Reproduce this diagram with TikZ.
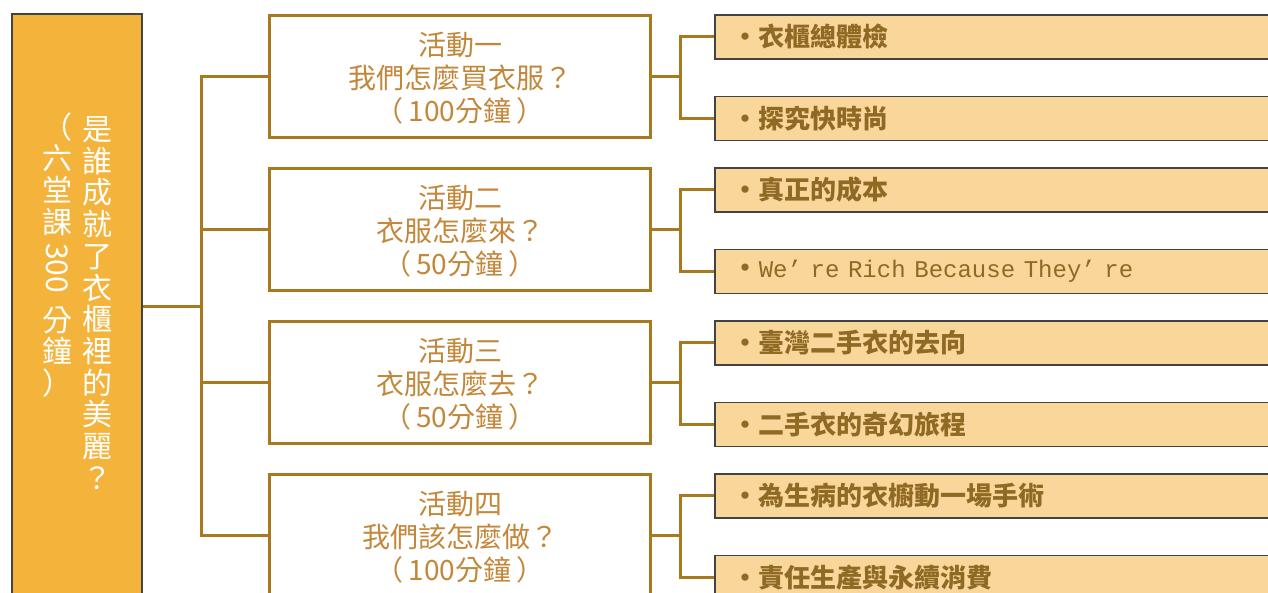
\documentclass[tikz,border=0pt]{standalone}
\usepackage{fontspec}
\setmainfont{Noto Sans CJK TC}
\newfontfamily\latinmono{Liberation Mono}
\usetikzlibrary{positioning,calc}
\definecolor{topicfill}{HTML}{F4B33A}
\definecolor{framegray}{HTML}{434343}
\definecolor{linkbrown}{HTML}{A8791F}
\definecolor{acttext}{HTML}{C3873A}
\definecolor{itemfill}{HTML}{F9D79B}
\definecolor{itemtext}{HTML}{8F6A25}
\newcommand{\paren}[1]{（\hspace{5pt}#1\hspace{5pt}）}
\tikzset{
  topic/.style={draw=framegray, line width=1.5pt, fill=topicfill,
    minimum width=130pt, minimum height=700pt, anchor=north west},
  vtext/.style={text=white, align=center, inner sep=0pt,
    font=\fontsize{30}{31.7}\selectfont},
  activity/.style={draw=linkbrown, line width=3pt, fill=white,
    minimum width=381pt, minimum height=122pt, text=acttext, align=center,
    text depth=-4pt, font=\fontsize{28}{33}\selectfont},
  item/.style={draw=framegray, line width=1.5pt, fill=itemfill,
    text width=540pt, inner xsep=18pt, inner ysep=2pt, minimum height=44pt,
    align=left, text=itemtext, font=\fontsize{26}{30}\selectfont\bfseries},
  link/.style={draw=linkbrown, line width=3pt}
}
\begin{document}
\begin{tikzpicture}[x=1pt,y=-1pt]
\useasboundingbox (0,0) rectangle (1268,592);
\clip (0,0) rectangle (1268,592);
% topic column
\node[topic] (topic) at (11,13) {};
\node[vtext] (title) at (97,303) {是\\誰\\成\\就\\了\\衣\\櫃\\裡\\的\\美\\麗\\？};
\node[vtext] (span-1) at (57,174) {（\\六\\堂\\課};
\node[vtext, rotate=-90] (span-2) at (57,268) {300};
\node[vtext] (span-3) at (57,352) {分\\鐘\\）};
% activities
\node[activity, anchor=north west] (act1) at (268,14) {活動一\\我們怎麼買衣服？\\\paren{100分鐘}};
\node[activity, below=28pt of act1] (act2) {活動二\\衣服怎麼來？\\\paren{50分鐘}};
\node[activity, below=28pt of act2] (act3) {活動三\\衣服怎麼去？\\\paren{50分鐘}};
\node[activity, below=28pt of act3] (act4) {活動四\\我們該怎麼做？\\\paren{100分鐘}};
% items
\node[item, right=62pt of act1.north east, anchor=north west] (item-1-1) {・衣櫃總體檢};
\node[item, below=36pt of item-1-1] (item-1-2) {・探究快時尚};
\node[item, right=62pt of act2.north east, anchor=north west] (item-2-1) {・真正的成本};
\node[item, below=36pt of item-2-1] (item-2-2) {・{\latinmono\mdseries\fontsize{24}{30}\selectfont We’ re Rich Because They’ re}};
\node[item, right=62pt of act3.north east, anchor=north west] (item-3-1) {・臺灣二手衣的去向};
\node[item, below=36pt of item-3-1] (item-3-2) {・二手衣的奇幻旅程};
\node[item, right=62pt of act4.north east, anchor=north west] (item-4-1) {・為生病的衣櫥動一場手術};
\node[item, below=36pt of item-4-1] (item-4-2) {・責任生產與永續消費};
% connectors
\coordinate (hub) at ($(act1.west)!.5!(act4.west)+(-67,0)$);
\draw[link] (act1.west) -- (act1.west -| hub) -- (act4.west -| hub) -- (act4.west);
\draw[link] (act2.west) -- (act2.west -| hub);
\draw[link] (act3.west) -- (act3.west -| hub);
\draw[link] (topic.east |- hub) -- (hub);
\foreach \i in {1,...,4} {
  \draw[link] (act\i.east) -- ++(28,0) coordinate (fork\i);
  \draw[link] (item-\i-1.west) -| (fork\i) |- (item-\i-2.west);
}
\end{tikzpicture}
\end{document}
